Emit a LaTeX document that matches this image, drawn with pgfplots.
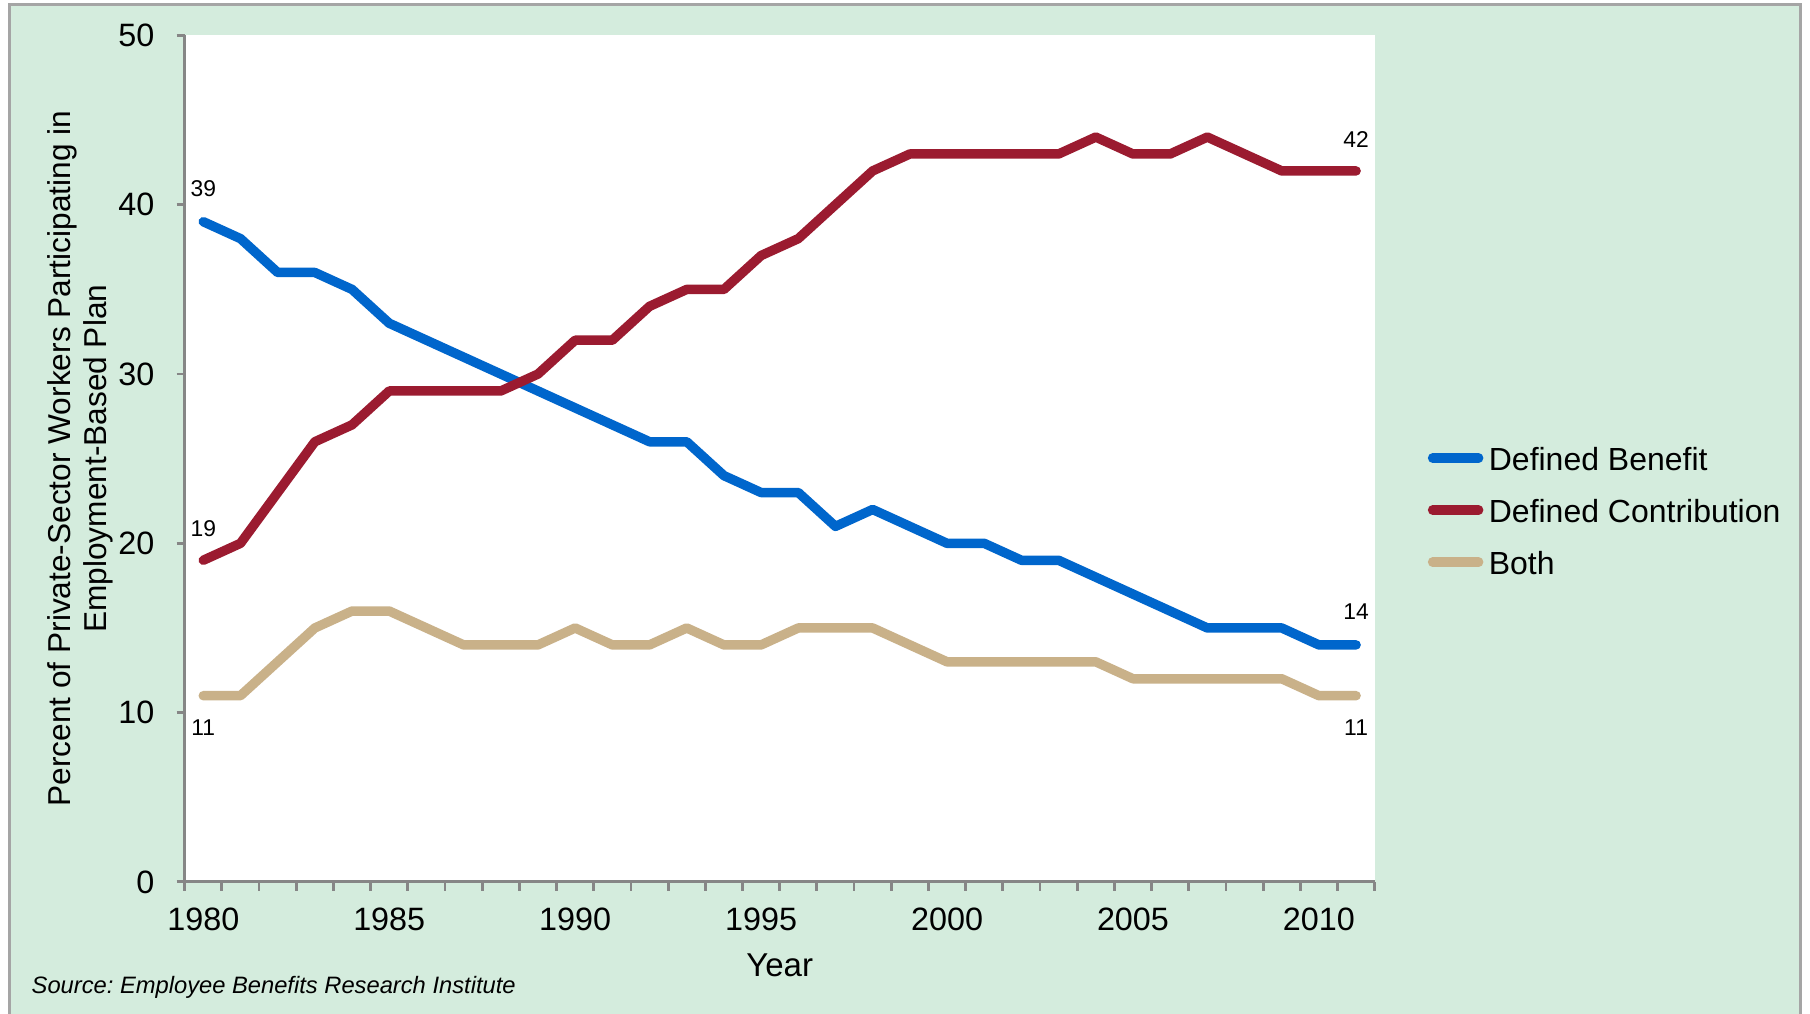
\documentclass[border=0pt]{standalone}
\usepackage{pgfplots}
\usepackage{pgfplotstable}
\pgfplotsset{compat=1.18}
\usepackage{fontspec}
\setmainfont{Liberation Sans}
\frenchspacing
\definecolor{bg}{RGB}{212,236,221}
\definecolor{dbc}{RGB}{0,102,204}
\definecolor{dcc}{RGB}{155,27,48}
\definecolor{bothc}{RGB}{201,177,137}
\definecolor{axc}{RGB}{134,134,134}
\definecolor{frame}{RGB}{165,165,165}

\pgfplotstableread{
year db dc both
1980 39 19 11
1981 38 20 11
1982 36 23 13
1983 36 26 15
1984 35 27 16
1985 33 29 16
1986 32 29 15
1987 31 29 14
1988 30 29 14
1989 29 30 14
1990 28 32 15
1991 27 32 14
1992 26 34 14
1993 26 35 15
1994 24 35 14
1995 23 37 14
1996 23 38 15
1997 21 40 15
1998 22 42 15
1999 21 43 14
2000 20 43 13
2001 20 43 13
2002 19 43 13
2003 19 43 13
2004 18 44 13
2005 17 43 12
2006 16 43 12
2007 15 44 12
2008 15 43 12
2009 15 42 12
2010 14 42 11
2011 14 42 11
}\datatable

\begin{document}
\begin{tikzpicture}
\useasboundingbox (0,0) rectangle (18.1,10.14);
\fill[bg] (0.092,0) rectangle (18.008,10.094);
\draw[frame, line width=0.9pt] (0.092,-0.2) -- (0.092,10.094) -- (18.008,10.094) -- (18.008,-0.2);
\begin{axis}[
  at={(1.847cm,1.321cm)}, anchor=south west,
  scale only axis, width=11.90cm, height=8.464cm,
  xmin=1979.5, xmax=2011.5, ymin=0, ymax=50,
  axis x line*=bottom, axis y line*=left,
  axis line style={-, draw=axc, line width=0.8pt},
  axis background/.style={fill=white},
  xtick={1980,1985,...,2010},
  minor xtick={1979.5,1980.5,...,2011.5},
  ytick={0,10,...,50},
  tick align=outside,
  major tick length=0.8mm,
  minor tick length=0.9mm,
  major x tick style={draw=none},
  every tick/.style={draw=axc, line width=0.8pt},
  minor x tick style={draw=axc, line width=0.8pt},
  major y tick style={draw=axc, line width=0.8pt},
  /pgf/number format/assume math mode=true,
  xticklabel={\pgfmathprintnumber[/pgf/number format/1000 sep=]{\tick}},
  tick label style={font=\fontsize{9.2}{11}\selectfont, text=black},
  xticklabel style={yshift=-0.6mm},
  yticklabel style={xshift=-1mm},
  xlabel={Year},
  xlabel style={at={(axis description cs:0.5,-0.0982)}, anchor=center, font=\fontsize{9.4}{11}\selectfont},
  ylabel={Percent of Private-Sector Workers Participating in\\Employment-Based Plan},
  ylabel style={at={(axis description cs:-0.0878,0.5)}, anchor=center, align=center, font=\fontsize{9.0}{10.2}\selectfont},
  legend style={at={(axis description cs:1.0447,0.4392)}, anchor=west, draw=none, fill=none,
    inner sep=0pt, outer sep=0pt, row sep=2.8mm, column sep=0.55mm,
    font=\fontsize{9.1}{11}\selectfont,
    nodes={inner sep=0pt, text height=2.4mm, text depth=0pt}},
  legend cell align=left,
  legend image code/.code={\draw[#1, line cap=round] (0mm,0mm) -- (4.6mm,0mm);},
  clip=false,
]
\addplot[dbc, line width=0.95mm, line join=round, line cap=round] table[x=year, y=db] {\datatable};
\addlegendentry{Defined Benefit}
\addplot[dcc, line width=0.95mm, line join=round, line cap=round] table[x=year, y=dc] {\datatable};
\addlegendentry{Defined Contribution}
\addplot[bothc, line width=0.95mm, line join=round, line cap=round] table[x=year, y=both] {\datatable};
\addlegendentry{Both}
\begin{scope}[every node/.style={font=\fontsize{6.5}{8}\selectfont, anchor=base}]
\node[yshift=2.5mm] at (axis cs:1980,39) {39};
\node[yshift=2.4mm] at (axis cs:1980,19) {19};
\node[yshift=-3.95mm] at (axis cs:1980,11) {11};
\node[yshift=2.35mm] at (axis cs:2011,42) {42};
\node[yshift=2.5mm] at (axis cs:2011,14) {14};
\node[yshift=-3.95mm] at (axis cs:2011,11) {11};
\end{scope}
\end{axis}
\node[anchor=west, inner sep=0pt, font=\fontsize{6.75}{9}\selectfont\itshape] at (0.31,0.27) {Source: Employee Benefits Research Institute};
\end{tikzpicture}
\end{document}
